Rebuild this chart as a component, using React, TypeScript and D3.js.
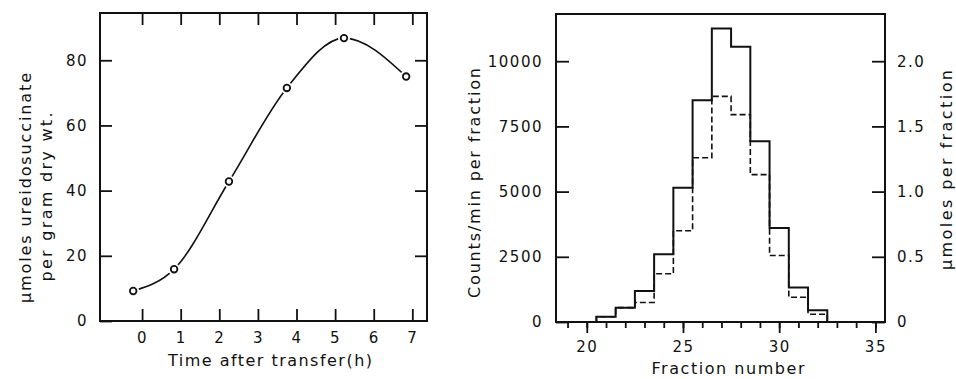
import { useEffect, useRef } from "react";
import * as d3 from "d3";

// left panel: ureidosuccinate vs time
const timeHours = [-0.23, 0.83, 2.25, 3.75, 5.23, 6.84];
const ureidosuccinate = [9.2, 15.9, 42.8, 71.5, 86.8, 75];
const timeTicks = [0, 1, 2, 3, 4, 5, 6, 7];
const ureidoTicks = [0, 20, 40, 60, 80];

// right panel: fraction histogram
const fractions = [21, 22, 23, 24, 25, 26, 27, 28, 29, 30, 31, 32];
const countsPerMin = [200, 550, 1190, 2600, 5150, 8500, 11250, 10550, 6930, 3600, 1320, 450];
const umolesPerFraction = [0.04, 0.11, 0.15, 0.37, 0.7, 1.26, 1.73, 1.59, 1.13, 0.51, 0.19, 0.06];
const countTicks = [0, 2500, 5000, 7500, 10000];
const umoleTicks = [0, 0.5, 1.0, 1.5, 2.0];
const fractionMajor = [20, 25, 30, 35];

const FONT = "'DejaVu Sans', sans-serif";
const INK = "#111";

export default function App() {
  const ref = useRef<SVGSVGElement | null>(null);

  useEffect(() => {
    if (!ref.current) return;
    const svg = d3.select(ref.current);
    svg.selectAll("*").remove();

    const styleAxis = (g: d3.Selection<SVGGElement, unknown, null, undefined>) => {
      g.select(".domain").remove();
      g.selectAll("line").attr("stroke", INK).attr("stroke-width", 1.8);
      g.selectAll("text")
        .attr("fill", INK)
        .attr("font-family", FONT)
        .attr("font-size", 15)
        .attr("letter-spacing", 1.5);
    };

    const label = (g: d3.Selection<SVGGElement, unknown, null, undefined>, text: string, x: number, y: number, len: number, rotate = 0) =>
      g.append("text")
        .attr("transform", `translate(${x},${y}) rotate(${rotate})`)
        .attr("text-anchor", "middle")
        .attr("font-family", FONT)
        .attr("font-size", 16)
        .attr("textLength", len)
        .attr("lengthAdjust", "spacing")
        .attr("fill", INK)
        .text(text);

    // ---------- left panel ----------
    const L = { left: 100, right: 427, top: 13, bottom: 321 };
    const x1 = d3.scaleLinear().domain([-1.09, 7.38]).range([L.left, L.right]);
    const y1 = d3.scaleLinear().domain([0, 94.5]).range([L.bottom, L.top]);

    const left = svg.append("g");

    left.append("g")
      .attr("transform", `translate(0,${L.bottom})`)
      .call(d3.axisBottom(x1).tickValues(timeTicks).tickSizeInner(-12).tickSizeOuter(0).tickPadding(11).tickFormat(d3.format("d")))
      .call(styleAxis);
    left.append("g")
      .attr("transform", `translate(0,${L.top})`)
      .call(d3.axisTop(x1).tickValues(timeTicks).tickSizeInner(-12).tickSizeOuter(0).tickFormat(() => ""))
      .call(styleAxis);
    left.append("g")
      .attr("transform", `translate(${L.left},0)`)
      .call(d3.axisLeft(y1).tickValues(ureidoTicks).tickSizeInner(-12).tickSizeOuter(0).tickPadding(12).tickFormat(d3.format("d")))
      .call(styleAxis);
    left.append("g")
      .attr("transform", `translate(${L.right},0)`)
      .call(d3.axisRight(y1).tickValues(ureidoTicks.slice(1)).tickSizeInner(-12).tickSizeOuter(0).tickFormat(() => ""))
      .call(styleAxis);

    left.append("rect")
      .attr("x", L.left).attr("y", L.top)
      .attr("width", L.right - L.left).attr("height", L.bottom - L.top)
      .attr("fill", "none").attr("stroke", INK).attr("stroke-width", 2);

    const pts = timeHours.map((t, i) => [t, ureidosuccinate[i]] as [number, number]);
    const curve = d3.line<[number, number]>()
      .x((d) => x1(d[0]))
      .y((d) => y1(d[1]))
      .curve(d3.curveMonotoneX);
    left.append("path")
      .datum(pts)
      .attr("d", curve)
      .attr("fill", "none")
      .attr("stroke", INK)
      .attr("stroke-width", 1.6);

    left.selectAll("circle.halo")
      .data(pts)
      .join("circle")
      .attr("class", "halo")
      .attr("cx", (d) => x1(d[0]))
      .attr("cy", (d) => y1(d[1]))
      .attr("r", 6)
      .attr("fill", "#fff");
    left.selectAll("circle.pt")
      .data(pts)
      .join("circle")
      .attr("class", "pt")
      .attr("cx", (d) => x1(d[0]))
      .attr("cy", (d) => y1(d[1]))
      .attr("r", 3.3)
      .attr("fill", "#fff")
      .attr("stroke", INK)
      .attr("stroke-width", 1.8);

    label(left, "Time after transfer(h)", 270, 366, 204);
    label(left, "μmoles ureidosuccinate", 31, 188, 230, -90);
    label(left, "per gram dry wt.", 52, 197, 169, -90);

    // ---------- right panel ----------
    const R = { left: 556, right: 885, top: 14, bottom: 322 };
    const x2 = d3.scaleLinear().domain([18.4, 35.5]).range([R.left, R.right]);
    const yc = d3.scaleLinear().domain([0, 11810]).range([R.bottom, R.top]);
    const yu = d3.scaleLinear().domain([0, 2.362]).range([R.bottom, R.top]);

    const right = svg.append("g");

    right.append("g")
      .attr("transform", `translate(0,${R.bottom})`)
      .call(d3.axisBottom(x2).tickValues(d3.range(19, 36)).tickSizeInner(6).tickSizeOuter(0).tickFormat(() => ""))
      .call(styleAxis);
    right.append("g")
      .attr("transform", `translate(0,${R.bottom})`)
      .call(d3.axisBottom(x2).tickValues(fractionMajor).tickSizeInner(11).tickSizeOuter(0).tickPadding(8).tickFormat(d3.format("d")))
      .call(styleAxis);
    right.append("g")
      .attr("transform", `translate(${R.left},0)`)
      .call(d3.axisLeft(yc).tickValues(countTicks).tickSizeInner(-13).tickSizeOuter(0).tickPadding(13).tickFormat(d3.format("d")))
      .call(styleAxis);
    right.append("g")
      .attr("transform", `translate(${R.right},0)`)
      .call(d3.axisRight(yu).tickValues(umoleTicks).tickSizeInner(-13).tickSizeOuter(0).tickPadding(12)
        .tickFormat((d) => (+d === 0 ? "0" : d3.format(".1f")(+d))))
      .call(styleAxis);

    right.append("rect")
      .attr("x", R.left).attr("y", R.top)
      .attr("width", R.right - R.left).attr("height", R.bottom - R.top)
      .attr("fill", "none").attr("stroke", INK).attr("stroke-width", 2);

    const stepPoints = (vals: number[]) => {
      const p: [number, number][] = [[fractions[0] - 0.5, 0]];
      fractions.forEach((f, i) => p.push([f - 0.5, vals[i]]));
      p.push([fractions[fractions.length - 1] + 0.5, 0]);
      return p;
    };

    right.append("path")
      .datum(stepPoints(umolesPerFraction))
      .attr("d", d3.line<[number, number]>().x((d) => x2(d[0])).y((d) => yu(d[1])).curve(d3.curveStepAfter))
      .attr("fill", "none")
      .attr("stroke", INK)
      .attr("stroke-width", 1.6)
      .attr("stroke-dasharray", "6,3");

    right.append("path")
      .datum(stepPoints(countsPerMin))
      .attr("d", d3.line<[number, number]>().x((d) => x2(d[0])).y((d) => yc(d[1])).curve(d3.curveStepAfter))
      .attr("fill", "none")
      .attr("stroke", INK)
      .attr("stroke-width", 2);

    label(right, "Fraction number", 728, 374, 153);
    label(right, "Counts/min per fraction", 480, 183, 230, -90);
    label(right, "μmoles per fraction", 952, 170, 200, -90);
  }, []);

  return (
    <svg
      ref={ref}
      width={956}
      height={379}
      style={{ position: "absolute", left: 0, top: 0, background: "#fff" }}
    />
  );
}
